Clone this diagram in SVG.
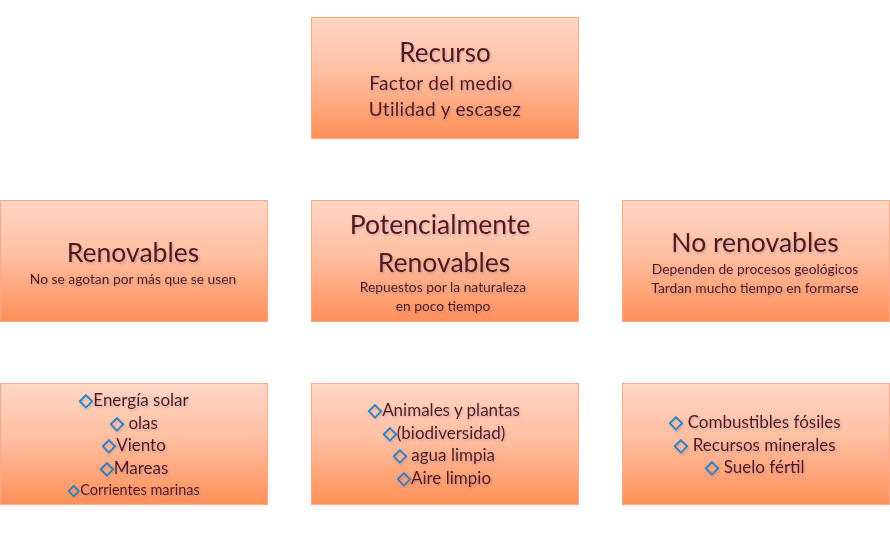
<svg xmlns="http://www.w3.org/2000/svg" width="890" height="536" viewBox="0 0 890 536">
<defs>
<linearGradient id="g" x1="0" y1="0" x2="0" y2="1">
<stop offset="0" stop-color="#FFD6C6"/>
<stop offset="0.45" stop-color="#FFBFA2"/>
<stop offset="1" stop-color="#FF8F58"/>
</linearGradient>
<filter id="sh" x="-10%" y="-30%" width="120%" height="160%">
<feDropShadow dx="1" dy="1.5" stdDeviation="1.2" flood-color="#6070A0" flood-opacity="0.4"/>
</filter>
</defs>
<style>
.box{fill:url(#g);stroke:#F7A98A;stroke-width:1}
text{font-family:Lato,"Open Sans","Liberation Sans",sans-serif;fill:#5A1212;text-anchor:middle;filter:url(#sh)}
.t{font-size:26.5px}
.s{font-size:17px}
.m{font-size:19px;letter-spacing:0.3px}
.x{font-size:13.8px}
.b{fill:#1F7FC0;stroke:#1F7FC0;stroke-width:0.7px;font-size:1.05em}
</style>
<rect width="890" height="536" fill="#fff"/>
<g id="recurso">
<rect class="box" x="311.5" y="17.5" width="267" height="121"/>
<text class="t" x="445" y="62" style="font-size:26px">Recurso</text>
<text class="m" x="441" y="90">Factor del medio</text>
<text class="m" x="445" y="116">Utilidad y escasez</text>
</g>
<g id="renovables">
<rect class="box" x="0.5" y="200.5" width="267" height="121"/>
<text class="t" x="133" y="262">Renovables</text>
<text class="x" x="133" y="284">No se agotan por más que se usen</text>
</g>
<g id="potencialmente">
<rect class="box" x="311.5" y="200.5" width="267" height="121"/>
<text class="t" x="440" y="234">Potencialmente</text>
<text class="t" x="444" y="272">Renovables</text>
<text class="x" x="443" y="292">Repuestos por la naturaleza</text>
<text class="x" x="443" y="311">en poco tiempo</text>
</g>
<g id="norenovables">
<rect class="box" x="622.5" y="200.5" width="267" height="121"/>
<text class="t" x="755" y="252">No renovables</text>
<text class="x" x="755" y="274">Dependen de procesos geológicos</text>
<text class="x" x="755" y="293">Tardan mucho tiempo en formarse</text>
</g>
<g id="ejemplos-renovables">
<rect class="box" x="0.5" y="383.5" width="267" height="121"/>
<text class="s" x="134" y="406"><tspan class="b">◇</tspan>Energía solar</text>
<text class="s" x="134" y="429"><tspan class="b">◇</tspan> olas</text>
<text class="s" x="134" y="451"><tspan class="b">◇</tspan>Viento</text>
<text class="s" x="134" y="474"><tspan class="b">◇</tspan>Mareas</text>
<text class="x" x="134" y="495" style="font-size:14.5px"><tspan class="b">◇</tspan>Corrientes marinas</text>
</g>
<g id="ejemplos-potencialmente">
<rect class="box" x="311.5" y="383.5" width="267" height="121"/>
<text class="s" x="444" y="416"><tspan class="b">◇</tspan>Animales y plantas</text>
<text class="s" x="444" y="439"><tspan class="b">◇</tspan>(biodiversidad)</text>
<text class="s" x="444" y="461"><tspan class="b">◇</tspan> agua limpia</text>
<text class="s" x="444" y="484"><tspan class="b">◇</tspan>Aire limpio</text>
</g>
<g id="ejemplos-norenovables">
<rect class="box" x="622.5" y="383.5" width="267" height="121"/>
<text class="s" x="755" y="428"><tspan class="b">◇</tspan> Combustibles fósiles</text>
<text class="s" x="755" y="451"><tspan class="b">◇</tspan> Recursos minerales</text>
<text class="s" x="755" y="473"><tspan class="b">◇</tspan> Suelo fértil</text>
</g>
<g id="connectors"></g>
</svg>
